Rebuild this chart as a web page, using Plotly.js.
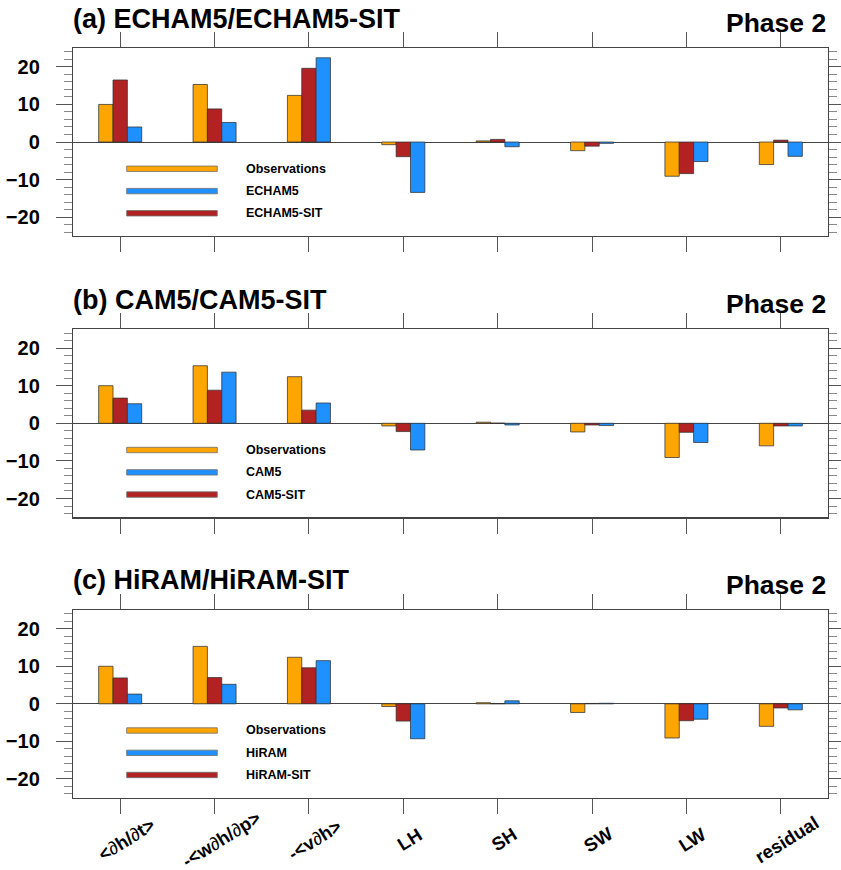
<!DOCTYPE html>
<html>
<head>
<meta charset="utf-8">
<script src="https://cdn.plot.ly/plotly-3.0.1.min.js"></script>
<style>
  html, body { margin: 0; padding: 0; background: #fff; }
  #chart { width: 841px; height: 870px; }
</style>
</head>
<body>
<div id="chart"></div>
<script>
// Moist static energy budget terms (Phase 2)
const categories = ['<∂h/∂t>', '-<w∂h/∂p>', '-<v∂h>', 'LH', 'SH', 'SW', 'LW', 'residual'];

const observations = [10.0, 15.3, 12.4, -0.7, 0.3, -2.3, -9.1, -6.0];

const echam5    = [4.0, 5.2, 22.4, -13.4, -1.25, -0.35, -5.2, -3.8];
const echam5Sit = [16.5, 8.8, 19.6, -3.9, 0.7, -1.1, -8.4, 0.5];

const cam5    = [5.2, 13.6, 5.4, -7.1, -0.45, -0.6, -5.1, -0.7];
const cam5Sit = [6.7, 8.8, 3.5, -2.2, 0.05, -0.45, -2.4, -0.7];

const hiram    = [2.6, 5.2, 11.5, -9.3, 0.8, 0.15, -4.1, -1.6];
const hiramSit = [6.9, 7.0, 9.6, -4.6, 0.05, 0.1, -4.5, -1.1];

const panelTitles = ['(a) ECHAM5/ECHAM5-SIT', '(b) CAM5/CAM5-SIT', '(c) HiRAM/HiRAM-SIT'];
const modelNames  = ['ECHAM5', 'CAM5', 'HiRAM'];
const sitNames    = ['ECHAM5-SIT', 'CAM5-SIT', 'HiRAM-SIT'];
const modelValues = [echam5, cam5, hiram];
const sitValues   = [echam5Sit, cam5Sit, hiramSit];
const phaseLabel  = 'Phase 2';

const COL_OBS = '#FFA500';
const COL_SIT = '#B22222';
const COL_MOD = '#1E90FF';
const EDGE = 'rgba(50,50,50,0.75)';
const FONT = 'Liberation Sans, Arial, Helvetica, sans-serif';

// category labels: escape angle brackets, draw the partial-derivative sign lighter
const labelText = categories.map(c =>
  c.replace(/</g, '&lt;').replace(/>/g, '&gt;')
   .replace(/∂/g, '<span style="font-weight:normal">∂</span>'));

// panel frames in paper coordinates (top, middle, bottom)
const xDomain = [73 / 841, 828 / 841];
const yDomains = [[0.7287, 0.9448], [0.4054, 0.6215], [0.0831, 0.2989]];
const titleY = [1 - 19 / 870, 1 - 300 / 870, 1 - 580 / 870];
const phaseY = [1 - 23 / 870, 1 - 304 / 870, 1 - 585 / 870];

const traces = [];
const layout = {
  width: 841, height: 870,
  margin: {l: 0, r: 0, t: 0, b: 0},
  paper_bgcolor: '#fff', plot_bgcolor: '#fff',
  font: {family: FONT, color: '#000'},
  barmode: 'group', bargap: 0.544, bargroupgap: 0,
  showlegend: false,
  annotations: [], shapes: []
};

for (let p = 0; p < 3; p++) {
  const xa = p === 0 ? 'x' : 'x' + (p + 1);
  const ya = p === 0 ? 'y' : 'y' + (p + 1);
  const series = [
    {name: 'Observations', y: observations, color: COL_OBS},
    {name: sitNames[p], y: sitValues[p], color: COL_SIT},
    {name: modelNames[p], y: modelValues[p], color: COL_MOD}
  ];
  series.forEach(s => traces.push({
    type: 'bar', x: categories, y: s.y, name: s.name,
    xaxis: xa, yaxis: ya,
    marker: {color: s.color, line: {color: EDGE, width: 1}},
    hoverinfo: 'x+y+name'
  }));

  layout['xaxis' + (p === 0 ? '' : p + 1)] = {
    domain: xDomain, anchor: ya,
    type: 'category', categoryorder: 'array', categoryarray: categories,
    range: [-0.5, 7.5],
    showticklabels: false,
    ticks: 'outside', ticklen: 15, tickwidth: 1, tickcolor: '#555',
    showline: true, linecolor: '#444', linewidth: 1.2, mirror: 'allticks',
    showgrid: false, zeroline: false, fixedrange: true
  };
  layout['yaxis' + (p === 0 ? '' : p + 1)] = {
    domain: yDomains[p], anchor: xa,
    range: [-25, 25], tick0: 0, dtick: 10,
    tickfont: {family: FONT, size: 20, weight: 'bold', color: '#000'},
    ticks: 'outside', ticklen: 16, tickwidth: 1, tickcolor: '#555',
    ticklabelstandoff: 12,
    minor: {dtick: 2, tick0: 0, ticks: 'outside', ticklen: 8, tickwidth: 1, tickcolor: '#888'},
    showline: true, linecolor: '#444', linewidth: 1.2, mirror: 'allticks',
    showgrid: false, zeroline: true, zerolinecolor: '#444', zerolinewidth: 1,
    fixedrange: true
  };

  // panel title and phase label
  layout.annotations.push({
    xref: 'paper', yref: 'paper', x: xDomain[0] - 0.002, y: titleY[p],
    xanchor: 'left', yanchor: 'middle', showarrow: false,
    text: panelTitles[p], font: {family: FONT, size: 27, weight: 'bold', color: '#000'}
  });
  layout.annotations.push({
    xref: 'paper', yref: 'paper', x: xDomain[1], y: phaseY[p],
    xanchor: 'right', yanchor: 'middle', showarrow: false,
    text: phaseLabel, font: {family: FONT, size: 26.5, weight: 'bold', color: '#000'}
  });

  // in-panel legend: colour strips with labels
  const legendRows = [0.358, 0.239, 0.121];
  const legendItems = [
    {label: 'Observations', color: COL_OBS},
    {label: modelNames[p], color: COL_MOD},
    {label: sitNames[p], color: COL_SIT}
  ];
  const half = 2.7 / 188;
  legendItems.forEach((item, i) => {
    layout.shapes.push({
      type: 'rect', xref: xa + ' domain', yref: ya + ' domain',
      x0: 0.0711, x1: 0.1911, y0: legendRows[i] - half, y1: legendRows[i] + half,
      fillcolor: item.color, line: {color: 'rgba(110,110,110,0.8)', width: 1}
    });
    layout.annotations.push({
      xref: xa + ' domain', yref: ya + ' domain', x: 0.2265, y: legendRows[i],
      xanchor: 'left', yanchor: 'middle', showarrow: false,
      text: item.label, font: {family: FONT, size: 12.5, weight: 'bold', color: '#000'}
    });
  });
}

// slanted category labels under the bottom panel, centred on each tick
categories.forEach((c, i) => {
  layout.annotations.push({
    xref: 'x3', yref: 'paper', x: c, y: 1 - 839 / 870,
    xshift: 6, xanchor: 'center', yanchor: 'middle', textangle: -32,
    showarrow: false, text: labelText[i],
    font: {family: FONT, size: 18.5, weight: 'bold', color: '#000'}
  });
});

Plotly.newPlot('chart', traces, layout, {displayModeBar: false, staticPlot: true});
</script>
</body>
</html>
